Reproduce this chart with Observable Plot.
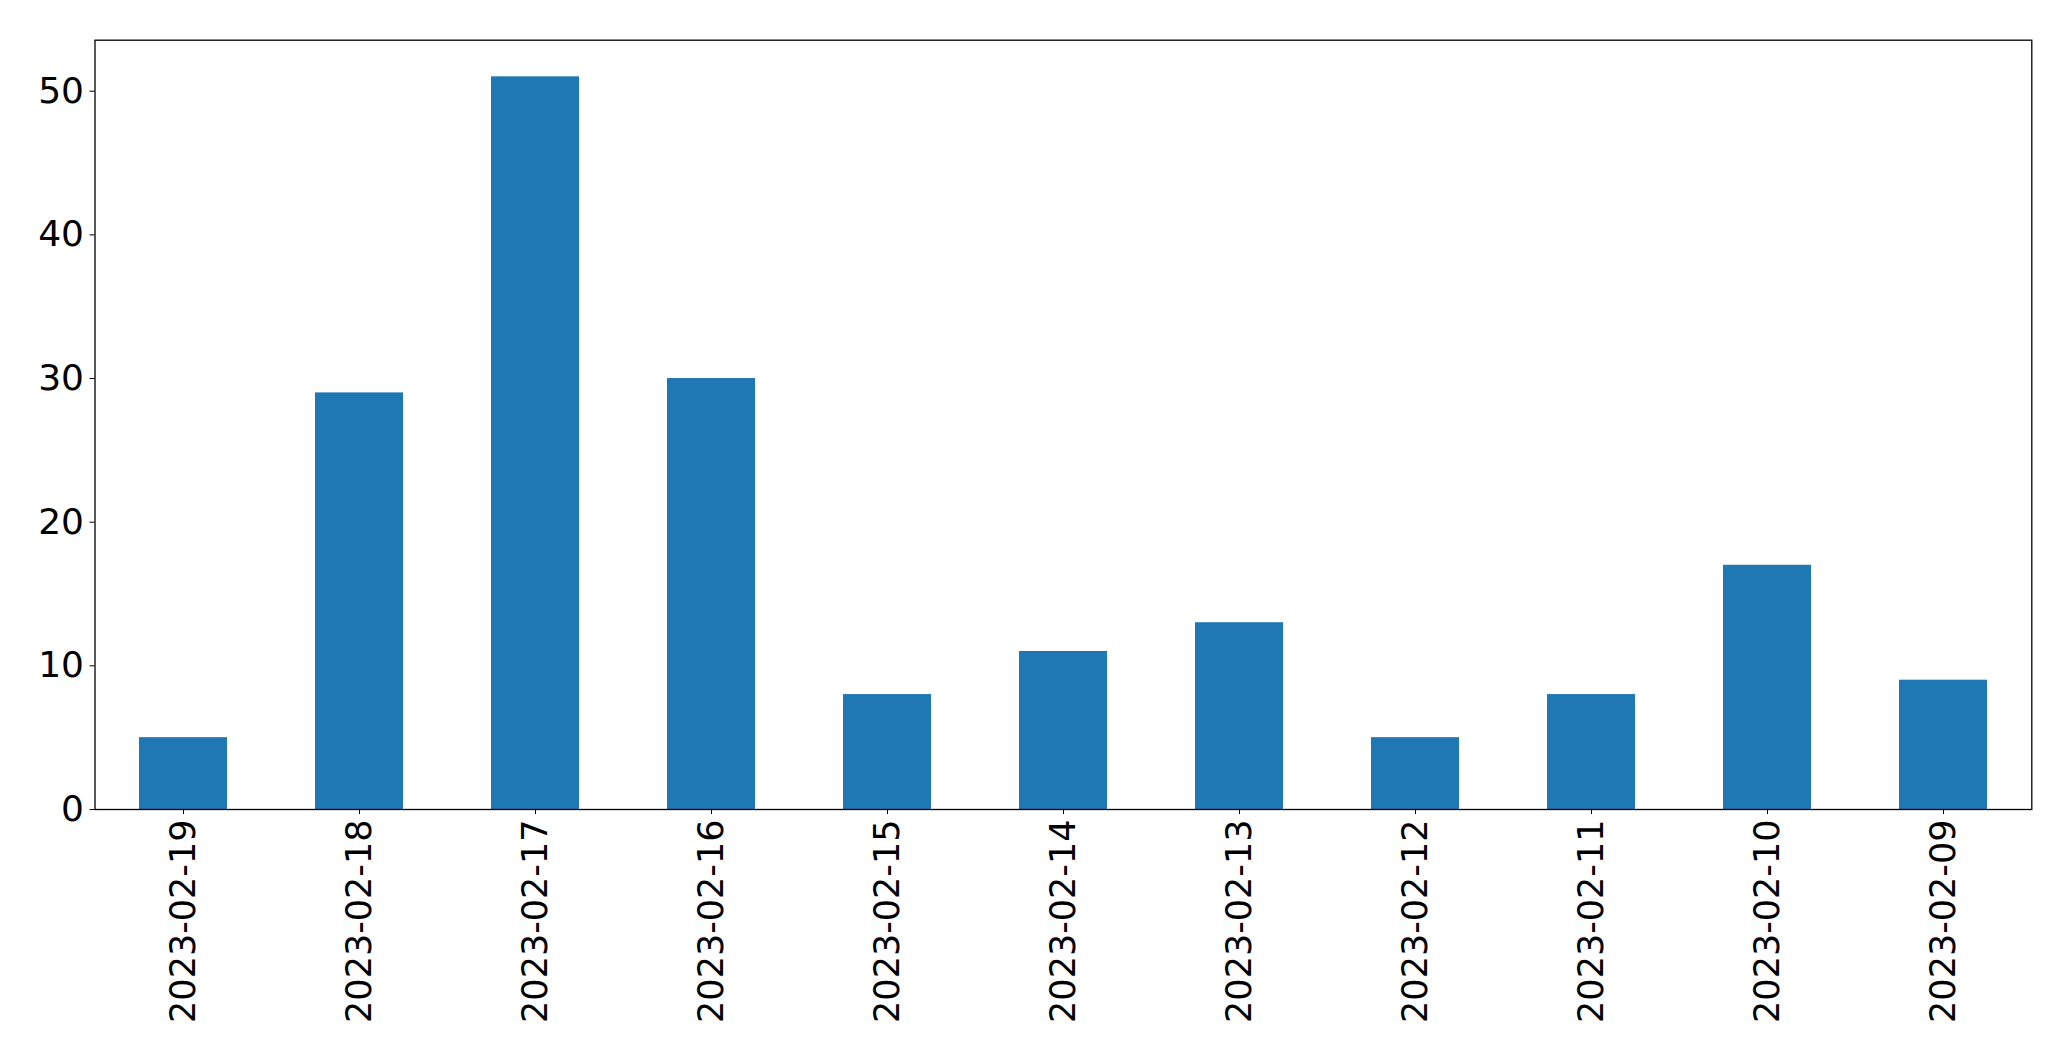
<!DOCTYPE html>
<html>
<head>
<meta charset="utf-8">
<script src="https://cdn.jsdelivr.net/npm/d3@7"></script>
<script src="https://cdn.jsdelivr.net/npm/@observablehq/plot@0.6"></script>
<style>
  html, body { margin: 0; padding: 0; background: #fff; overflow: hidden; }
  #chart svg { display: block; }
</style>
</head>
<body>
<div id="chart"></div>
<script>
const dates = ["2023-02-19", "2023-02-18", "2023-02-17", "2023-02-16", "2023-02-15", "2023-02-14", "2023-02-13", "2023-02-12", "2023-02-11", "2023-02-10", "2023-02-09"];
const counts = [5, 29, 51, 30, 8, 11, 13, 5, 8, 17, 9];
const yTicks = [0, 10, 20, 30, 40, 50];

const data = dates.map((d, i) => ({date: d, count: counts[i]}));

const chart = Plot.plot({
  width: 2071,
  height: 1061,
  marginLeft: 94.5,
  marginRight: 39.7,
  marginTop: 39.7,
  marginBottom: 252,
  style: {fontFamily: "DejaVu Sans", fontSize: "35px", color: "black", background: "white"},
  x: {type: "band", domain: dates, paddingInner: 0.5, paddingOuter: 0.25, label: null},
  y: {domain: [0, 53.55], label: null},
  marks: [
    Plot.barY(data, {x: "date", y: "count", fill: "#1f77b4"}),
    Plot.axisY({ticks: yTicks, tickSize: 5, tickPadding: 6, label: null, fontSize: 36, stroke: "black", fill: "black"}),
    Plot.axisX({tickSize: 5, tickPadding: 5, tickRotate: -90, label: null, fontSize: 35, stroke: "black", fill: "black"}),
    Plot.frame({stroke: "black", strokeWidth: 1.3})
  ]
});
document.getElementById("chart").appendChild(chart);
</script>
</body>
</html>
